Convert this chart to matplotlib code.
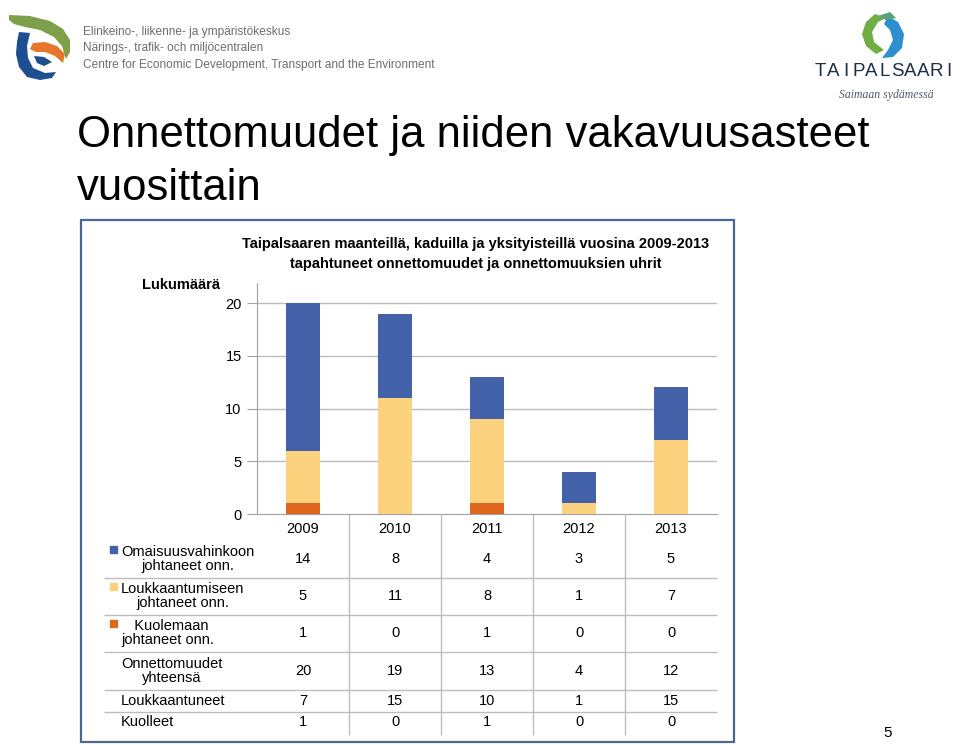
import numpy as np
import matplotlib
matplotlib.use("Agg")
import matplotlib.pyplot as plt
from matplotlib import font_manager as fm
from matplotlib.patches import Polygon, Rectangle

# ---- data ----
years = ["2009", "2010", "2011", "2012", "2013"]
omaisuus = [14, 8, 4, 3, 5]          # Omaisuusvahinkoon johtaneet onn.
loukkaantumis = [5, 11, 8, 1, 7]     # Loukkaantumiseen johtaneet onn.
kuolema = [1, 0, 1, 0, 0]            # Kuolemaan johtaneet onn.
yhteensa = [20, 19, 13, 4, 12]       # Onnettomuudet yhteensä
loukkaantuneet = [7, 15, 10, 1, 15]
kuolleet = [1, 0, 1, 0, 0]

c_blue = "#4362A9"
c_yellow = "#FCD27F"
c_orange = "#DE661E"
c_line = "#BDBDBD"

def has_font(name):
    try:
        fm.findfont(fm.FontProperties(family=name), fallback_to_default=False)
        return True
    except Exception:
        return False

base = "Liberation Sans" if has_font("Liberation Sans") else "DejaVu Sans"
narrow = "Liberation Sans Narrow" if has_font("Liberation Sans Narrow") else base
plt.rcParams['font.family'] = [base, 'DejaVu Sans']

W, H = 960, 745
fig = plt.figure(figsize=(W / 100, H / 100), dpi=100)

def box(x0, y0, x1, y1):
    # pixel box (top-left origin) -> figure fraction rect
    return [x0 / W, 1 - y1 / H, (x1 - x0) / W, (y1 - y0) / H]

# decoration layer in pixel coordinates
deco = fig.add_axes([0, 0, 1, 1])
deco.set_xlim(0, W)
deco.set_ylim(H, 0)
deco.axis("off")

# left logo (rough shapes)
deco.add_patch(Polygon([(9, 15), (30, 16), (50, 21), (63, 29), (70, 40), (70, 52), (66, 59),
                        (62, 46), (54, 37), (40, 30), (25, 27), (14, 24), (9, 20)],
                       closed=True, color="#7FA04A", lw=0))
deco.add_patch(Polygon([(19, 32), (30, 33), (27, 46), (28, 58), (33, 68), (45, 73), (56, 72),
                        (52, 78), (40, 80), (27, 77), (19, 67), (16, 54), (17, 42)],
                       closed=True, color="#1D4E8F", lw=0))
deco.add_patch(Polygon([(33, 43), (45, 42), (57, 46), (65, 54), (63, 63), (55, 56), (45, 52),
                        (36, 52), (30, 49)], closed=True, color="#E5762A", lw=0))
deco.add_patch(Polygon([(34, 56), (44, 57), (52, 62), (44, 66), (37, 63)],
                       closed=True, color="#1D4E8F", lw=0))
for i, t in enumerate(["Elinkeino-, liikenne- ja ympäristökeskus",
                       "Närings-, trafik- och miljöcentralen",
                       "Centre for Economic Development, Transport and the Environment"]):
    deco.text(83, 32 + i * 16.5, t, fontsize=8.6, color="#6E6E6E", va="center", ha="left")

# right logo (rough shapes)
deco.add_patch(Polygon([(875, 14), (866, 22), (862, 34), (866, 46), (876, 54), (884, 50),
                        (874, 42), (872, 32), (878, 22), (886, 18)],
                       closed=True, color="#6FAE45", lw=0))
deco.add_patch(Polygon([(888, 16), (898, 22), (904, 34), (902, 48), (893, 57), (882, 58),
                        (888, 50), (893, 40), (890, 30), (884, 24)],
                       closed=True, color="#2E8FD0", lw=0))
deco.add_patch(Polygon([(878, 16), (890, 12), (896, 18), (886, 20)],
                       closed=True, color="#5CA17A", lw=0))
for i, ch in enumerate("TAIPALSAARI"):
    deco.text(820 + i * 12.9, 72, ch, fontsize=13.5, color="#1E2E48", ha="center", va="center")
deco.text(886, 95, "Saimaan sydämessä", fontsize=8.5, color="#4F5A6A", style="italic",
          family="Liberation Serif", ha="center", va="center")

# slide title
deco.text(77, 135, "Onnettomuudet ja niiden vakavuusasteet", fontsize=31.4, color="black",
          ha="left", va="center")
deco.text(77, 188, "vuosittain", fontsize=31.4, color="black", ha="left", va="center")

# chart frame
deco.add_patch(Rectangle((81, 220), 653, 522, fill=False, ec="#4A6892", lw=1.6))
deco.text(476, 244, "Taipalsaaren maanteillä, kaduilla ja yksityisteillä vuosina 2009-2013",
          fontsize=10.5, fontweight="bold", family=narrow, ha="center", va="center")
deco.text(476, 264, "tapahtuneet onnettomuudet ja onnettomuuksien uhrit",
          fontsize=10.5, fontweight="bold", family=narrow, ha="center", va="center")
deco.text(220, 285, "Lukumäärä", fontsize=10.5, fontweight="bold", family=narrow,
          ha="right", va="center")
deco.text(888, 733, "5", fontsize=11, ha="center", va="center")

# ---- stacked bars ----
ax = fig.add_axes(box(257, 283, 717, 514))
x = np.arange(len(years))
bw = 0.36
b1 = np.array(kuolema)
b2 = b1 + np.array(loukkaantumis)
ax.bar(x, kuolema, bw, color=c_orange, zorder=3)
ax.bar(x, loukkaantumis, bw, bottom=b1, color=c_yellow, zorder=3)
ax.bar(x, omaisuus, bw, bottom=b2, color=c_blue, zorder=3)
ax.set_xlim(-0.5, len(years) - 0.5)
ax.set_ylim(0, 21.9)
ax.set_yticks([0, 5, 10, 15, 20])
for v in [5, 10, 15, 20]:
    ax.axhline(v, color=c_line, lw=1, zorder=1)
for s in ["top", "right"]:
    ax.spines[s].set_visible(False)
for s in ["left", "bottom"]:
    ax.spines[s].set_color("#A0A0A0")
ax.tick_params(axis="y", length=7, color="#A0A0A0", labelsize=10.5, pad=4)
ax.set_xticks(x)
ax.set_xticklabels(years, fontsize=10.5, family=narrow)
ax.tick_params(axis="x", length=0, pad=6)
ax.set_facecolor("none")

# ---- data table ----
tab = fig.add_axes(box(257, 514, 717, 737))
tab.set_xlim(-0.5, len(years) - 0.5)
tab.set_ylim(737, 514)
tab.axis("off")
tab.set_facecolor("none")

col_px = 92.0
def px_to_col(px):
    return -0.5 + (px - 257) / col_px

vl = tab.vlines(x[:-1] + 0.5, 514, 735, color=c_line, lw=1)
hl = tab.hlines([578, 615, 652, 690, 712], px_to_col(104), len(years) - 0.5, color=c_line, lw=1)
hl.set_clip_on(False)

rows = [
    ("Omaisuusvahinkoon\njohtaneet onn.", omaisuus, 559, c_blue),
    ("Loukkaantumiseen\njohtaneet onn.", loukkaantumis, 596, c_yellow),
    ("  Kuolemaan\njohtaneet onn.", kuolema, 633, c_orange),
    ("Onnettomuudet\nyhteensä", yhteensa, 671, None),
    ("Loukkaantuneet", loukkaantuneet, 701, None),
    ("Kuolleet", kuolleet, 722, None),
]
for label, vals, yc, col in rows:
    tab.text(px_to_col(121), yc, label, fontsize=10.5, family=narrow, ha="left", va="center",
             multialignment="center", linespacing=1.05, clip_on=False)
    if col is not None:
        tab.add_patch(Rectangle((px_to_col(110), yc - 10 - 3.5), 7 / col_px, 7,
                                color=col, clip_on=False))
    for xi, v in zip(x, vals):
        tab.text(xi, yc, str(v), fontsize=10.5, family=narrow, ha="center", va="center")

fig.savefig("out.png", dpi=100)
